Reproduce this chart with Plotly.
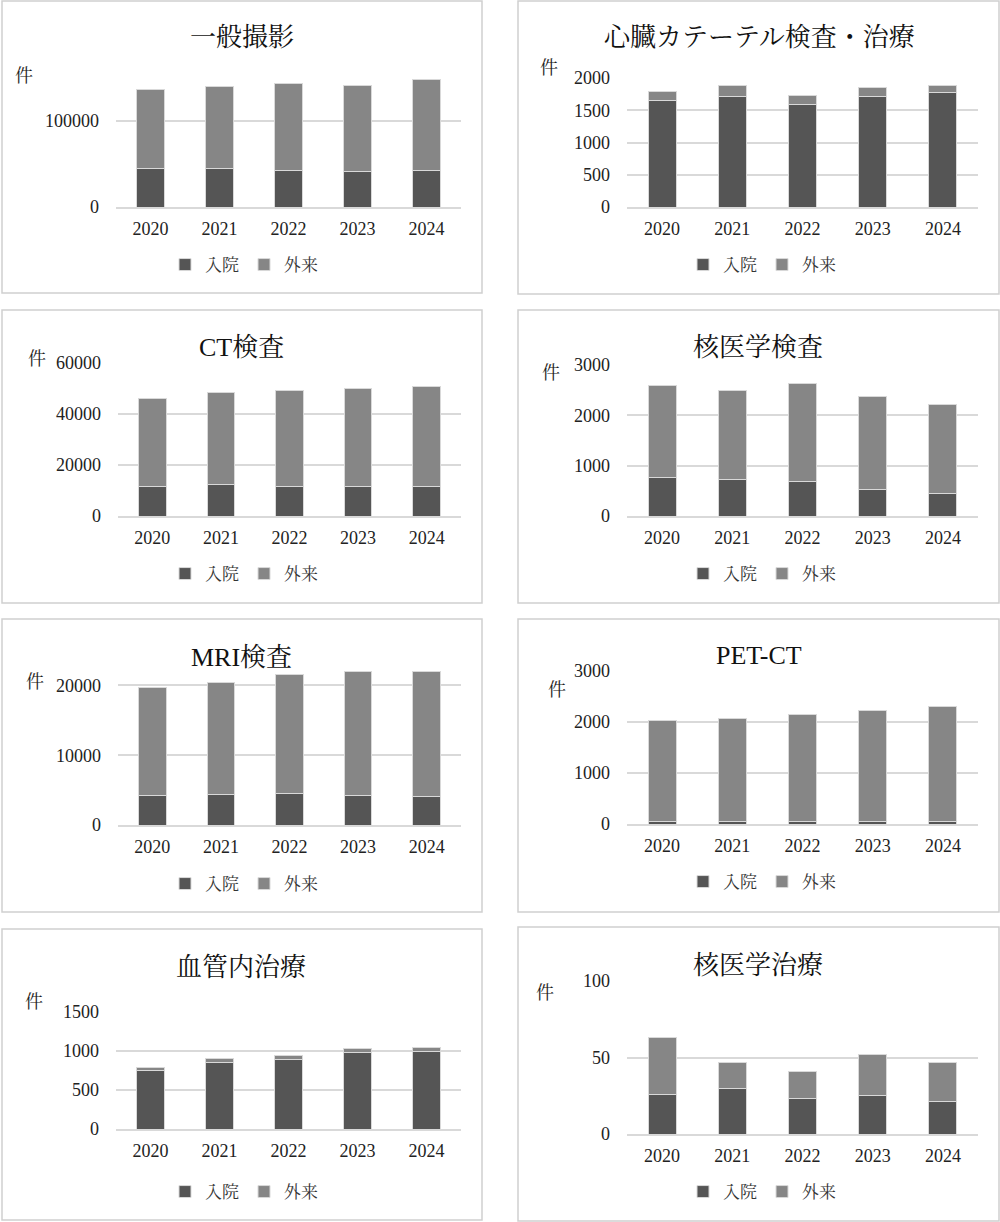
import plotly.graph_objects as go

W, H = 1000, 1222

years = ["2020", "2021", "2022", "2023", "2024"]
series_names = ["入院", "外来"]

titles = [
    "一般撮影",
    "心臓カテーテル検査・治療",
    "CT検査",
    "核医学検査",
    "MRI検査",
    "PET-CT",
    "血管内治療",
    "核医学治療",
]

general_in = [44700, 45300, 42700, 41200, 42700]
general_out = [91800, 95000, 101100, 100000, 105000]

cath_in = [1654, 1711, 1587, 1711, 1773]
cath_out = [144, 176, 149, 145, 109]

ct_in = [11760, 12160, 11630, 11630, 11630]
ct_out = [34510, 36080, 37780, 38440, 39350]

nm_exam_in = [768, 735, 695, 517, 457]
nm_exam_out = [1821, 1762, 1941, 1867, 1762]

mri_in = [4210, 4350, 4450, 4260, 4070]
mri_out = [15500, 16080, 17180, 17700, 17890]

pet_in = [55, 55, 45, 45, 45]
pet_out = [1982, 2015, 2103, 2182, 2267]

endo_in = [747, 859, 892, 982, 995]
endo_out = [39, 42, 48, 51, 51]

nm_ther_in = [26, 30, 23, 25, 21]
nm_ther_out = [37, 17, 18, 27, 26]

inpatient = [general_in, cath_in, ct_in, nm_exam_in, mri_in, pet_in, endo_in, nm_ther_in]
outpatient = [general_out, cath_out, ct_out, nm_exam_out, mri_out, pet_out, endo_out, nm_ther_out]

y_ranges = [[0, 150000], [0, 2000], [0, 60000], [0, 3000], [0, 22500], [0, 3000], [0, 1500], [0, 100]]
y_dticks = [100000, 500, 20000, 1000, 10000, 1000, 500, 50]

# pixel geometry of each panel (box, plot area, title, unit label, legend)
panels = [
    dict(box=(2, 1, 482, 293), plot=(116, 78, 461, 207), title=(242, 37), unit=(24, 76), legend=(244, 265)),
    dict(box=(518, 1, 999, 294), plot=(627, 78, 978, 207), title=(759, 38), unit=(549, 68), legend=(762, 265)),
    dict(box=(2, 310, 482, 603), plot=(118, 363, 461, 516), title=(241, 347), unit=(37, 359), legend=(244, 574)),
    dict(box=(518, 310, 999, 603), plot=(627, 365, 978, 516), title=(758, 347), unit=(551, 373), legend=(762, 574)),
    dict(box=(2, 619, 482, 912), plot=(118, 668, 461, 825), title=(241, 657), unit=(35, 682), legend=(244, 884)),
    dict(box=(518, 619, 999, 912), plot=(627, 671, 978, 824), title=(759, 655), unit=(557, 690), legend=(762, 882)),
    dict(box=(2, 929, 482, 1220), plot=(116, 1012, 461, 1129), title=(241, 967), unit=(34, 1002), legend=(244, 1192)),
    dict(box=(518, 927, 999, 1221), plot=(627, 981, 978, 1134), title=(758, 965), unit=(545, 993), legend=(762, 1192)),
]

colors = ["#555555", "#868686"]
FONT = "'Liberation Serif', 'Noto Serif CJK JP', 'Noto Sans CJK JP', serif"


def px_x(v):
    return v / W


def px_y(v):
    return 1 - v / H


fig = go.Figure()
layout = {}
shapes = []
annotations = []

for i, p in enumerate(panels):
    n = i + 1
    suffix = "" if n == 1 else str(n)
    legend_key = "legend" if n == 1 else f"legend{n}"

    for name, vals, col in zip(series_names, [inpatient[i], outpatient[i]], colors):
        fig.add_trace(
            go.Bar(
                x=years,
                y=vals,
                name=name,
                marker=dict(color=col, line=dict(color="#d9d9d9", width=1)),
                xaxis=f"x{suffix}",
                yaxis=f"y{suffix}",
                legend=legend_key,
            )
        )

    x0, y0, x1, y1 = p["plot"]
    layout[f"xaxis{suffix}"] = dict(
        domain=[px_x(x0), px_x(x1)],
        anchor=f"y{suffix}",
        showline=True,
        linecolor="#d9d9d9",
        linewidth=1.5,
        showgrid=False,
        ticks="",
        ticklabelstandoff=5,
        tickfont=dict(family=FONT, size=18, color="#222222"),
        fixedrange=True,
    )
    layout[f"yaxis{suffix}"] = dict(
        domain=[px_y(y1), px_y(y0)],
        anchor=f"x{suffix}",
        range=y_ranges[i],
        dtick=y_dticks[i],
        tick0=0,
        tickformat="d",
        showgrid=True,
        gridcolor="#d9d9d9",
        gridwidth=1.5,
        zeroline=False,
        showline=False,
        ticks="",
        ticklabelstandoff=16,
        tickfont=dict(family=FONT, size=18, color="#222222"),
        fixedrange=True,
    )
    layout[legend_key] = dict(
        orientation="h",
        x=px_x(p["legend"][0]),
        y=px_y(p["legend"][1]),
        xanchor="center",
        yanchor="middle",
        font=dict(family=FONT, size=17, color="#333333"),
        bgcolor="rgba(0,0,0,0)",
        itemwidth=30,
        traceorder="normal",
    )

    bx0, by0, bx1, by1 = p["box"]
    shapes.append(
        dict(
            type="rect",
            xref="paper",
            yref="paper",
            x0=px_x(bx0),
            x1=px_x(bx1),
            y0=px_y(by1),
            y1=px_y(by0),
            line=dict(color="#d0d0d0", width=1.5),
            fillcolor="rgba(0,0,0,0)",
        )
    )
    annotations.append(
        dict(
            text=titles[i],
            xref="paper",
            yref="paper",
            x=px_x(p["title"][0]),
            y=px_y(p["title"][1]),
            xanchor="center",
            yanchor="middle",
            showarrow=False,
            font=dict(family=FONT, size=26, color="#111111"),
        )
    )
    annotations.append(
        dict(
            text="件",
            xref="paper",
            yref="paper",
            x=px_x(p["unit"][0]),
            y=px_y(p["unit"][1]),
            xanchor="center",
            yanchor="middle",
            showarrow=False,
            font=dict(family=FONT, size=18, color="#222222"),
        )
    )

fig.update_layout(
    width=W,
    height=H,
    margin=dict(l=0, r=0, t=0, b=0, autoexpand=False),
    paper_bgcolor="white",
    plot_bgcolor="white",
    barmode="stack",
    bargap=0.6,
    shapes=shapes,
    annotations=annotations,
    **layout,
)

# drop the default page margin so the 1000x1222 figure fills the window exactly
fig.write_html(
    "out.html",
    config={"displayModeBar": False},
    post_script="document.body.style.margin='0';",
)
